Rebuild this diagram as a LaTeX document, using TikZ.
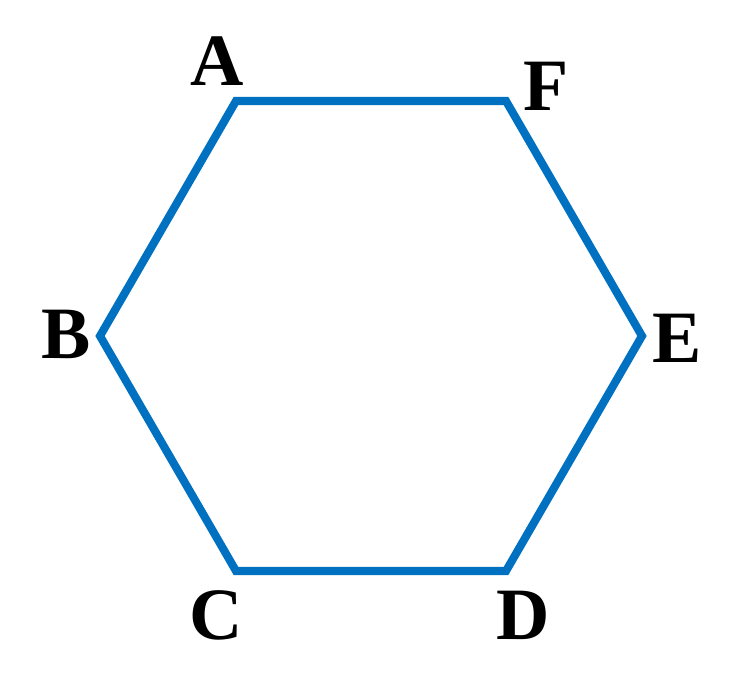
\documentclass[tikz,border=0pt]{standalone}
\usepackage{fontspec}
\setmainfont{Liberation Serif}
\usetikzlibrary{positioning}

\begin{document}
\begin{tikzpicture}[x=0.01cm, y=-0.01cm]
    % Palette
    \definecolor{edgeBlue}{HTML}{0070C0}
    \tikzset{
        side/.style={draw=edgeBlue, line width=2.3pt, line join=miter},
        vlabel/.style={font=\fontsize{21}{25}\selectfont\bfseries, inner sep=0pt}
    }

    \useasboundingbox (0,0) rectangle (741,694);

    % --- Vertices ---
    \coordinate (A) at (236,101);
    \coordinate (F) at (506,101);
    \coordinate (E) at (642,336);
    \coordinate (D) at (506,571);
    \coordinate (C) at (236,571);
    \coordinate (B) at (100,336);

    % --- Hexagon ---
    \draw[side] (A) -- (F) -- (E) -- (D) -- (C) -- (B) -- cycle;

    % --- Labels ---
    \node[vlabel] (labA) at (217,61) {A};
    \node[vlabel] (labF) at (546,86) {F};
    \node[vlabel] (labE) at (677,338) {E};
    \node[vlabel] (labD) at (523,615) {D};
    \node[vlabel] (labC) at (216,615) {C};
    \node[vlabel] (labB) at (66,334) {B};

\end{tikzpicture}
\end{document}
